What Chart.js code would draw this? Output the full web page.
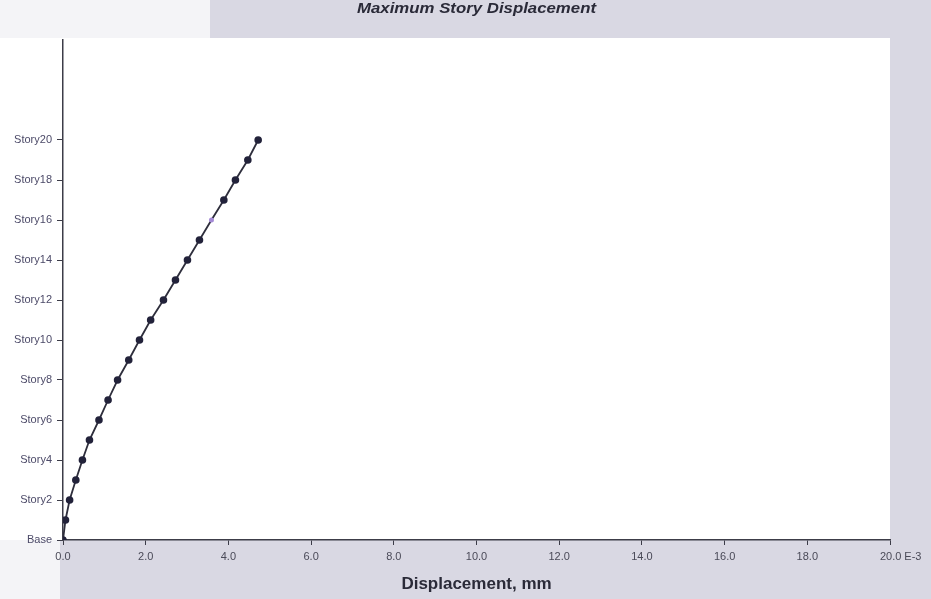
<!DOCTYPE html>
<html>
<head>
<meta charset="utf-8">
<script src="https://cdn.jsdelivr.net/npm/chart.js@4.4.0/dist/chart.umd.min.js"></script>
<style>
    html, body { margin: 0; padding: 0; background: #d9d8e3; }
    #wrap { width: 931px; height: 599px; }
</style>
</head>
<body>
<div id="wrap"><canvas id="disp-chart" width="931" height="599"></canvas></div>
<script>
// story index (0 = Base) and max displacement in units of 1E-3 mm
const stories = [0, 1, 2, 3, 4, 5, 6, 7, 8, 9, 10, 11, 12, 13, 14, 15, 16, 17, 18, 19, 20];
const displacement = [0, 0.06, 0.16, 0.31, 0.47, 0.64, 0.87, 1.09, 1.32, 1.59, 1.85,
    2.12, 2.43, 2.72, 3.01, 3.30, 3.59, 3.89, 4.17, 4.47, 4.72];
const xTicks = [0, 2, 4, 6, 8, 10, 12, 14, 16, 18, 20];
const yTicks = [0, 2, 4, 6, 8, 10, 12, 14, 16, 18, 20];

const chartTitle = 'Maximum Story Displacement';
const xTitle = 'Displacement, mm';

document.addEventListener('DOMContentLoaded', () => {
    const canvas = document.getElementById('disp-chart');

    const points = stories.map((s, i) => ({ x: displacement[i], y: s }));

    // paper background: grey scan, white plot sheet
    const sheetPlugin = {
        id: 'sheet',
        beforeDraw(chart) {
            const ctx = chart.ctx;
            const area = chart.chartArea;
            ctx.save();
            ctx.fillStyle = '#d9d8e3';
            ctx.fillRect(0, 0, chart.width, chart.height);
            ctx.fillStyle = '#f4f4f7';
            ctx.fillRect(0, 0, 210, 40);
            ctx.fillRect(0, area.bottom, 60, chart.height - area.bottom);
            ctx.fillStyle = '#ffffff';
            ctx.fillRect(0, area.top - 2, area.right, area.bottom - area.top + 2);
            ctx.restore();
        },
        afterDraw(chart) {
            const ctx = chart.ctx;
            const area = chart.chartArea;
            ctx.save();
            // title in the scan looks horizontally stretched
            ctx.translate((area.left + area.right) / 2, 9);
            ctx.scale(1.2, 1);
            ctx.font = 'italic bold 14px "Liberation Sans", Arial, sans-serif';
            ctx.fillStyle = '#2a2a38';
            ctx.textAlign = 'center';
            ctx.textBaseline = 'middle';
            ctx.fillText(chartTitle, 0, 0);
            ctx.restore();
        }
    };

    new Chart(canvas, {
        type: 'scatter',
        data: {
            datasets: [{
                data: points,
                showLine: true,
                borderColor: '#2e2e3c',
                borderWidth: 1.8,
                pointRadius: stories.map(s => s === 16 ? 2.5 : 3.8),
                pointBackgroundColor: stories.map(s => s === 16 ? '#a48ad6' : '#22223a'),
                pointBorderWidth: 0,
                tension: 0
            }]
        },
        options: {
            responsive: false,
            animation: false,
            layout: { padding: { top: 40, right: 41, left: 0, bottom: 4 } },
            plugins: {
                legend: { display: false },
                tooltip: { enabled: false }
            },
            scales: {
                x: {
                    type: 'linear',
                    min: 0,
                    max: 20,
                    afterBuildTicks: (axis) => { axis.ticks = xTicks.map(v => ({ value: v })); },
                    afterFit: (axis) => { axis.height = 55; },
                    border: { display: true, color: '#3c3c48', width: 1.5 },
                    grid: { drawOnChartArea: false, tickLength: 5, color: '#3c3c48' },
                    ticks: {
                        font: { family: '"Liberation Sans", Arial, sans-serif', size: 11 },
                        color: '#4a4a58',
                        padding: 5,
                        maxRotation: 0,
                        // leading spaces keep "20.0" centred on its tick
                        callback: (v) => v === 20 ? '       20.0 E-3' : v.toFixed(1)
                    },
                    title: {
                        display: true,
                        text: xTitle,
                        font: { family: '"Liberation Sans", Arial, sans-serif', size: 17, weight: 'bold' },
                        color: '#2a2a38',
                        padding: { top: 3, bottom: 0 }
                    }
                },
                y: {
                    type: 'linear',
                    min: 0,
                    max: 25,
                    afterBuildTicks: (axis) => { axis.ticks = yTicks.map(v => ({ value: v })); },
                    afterFit: (axis) => { axis.width = 63; },
                    border: { display: true, color: '#3c3c48', width: 1.5 },
                    grid: { drawOnChartArea: false, tickLength: 6, color: '#3c3c48' },
                    ticks: {
                        font: { family: '"Liberation Sans", Arial, sans-serif', size: 11 },
                        color: '#4c4a68',
                        padding: 5,
                        callback: (v) => v === 0 ? 'Base' : 'Story' + v
                    }
                }
            }
        },
        plugins: [sheetPlugin]
    });
});
</script>
</body>
</html>
